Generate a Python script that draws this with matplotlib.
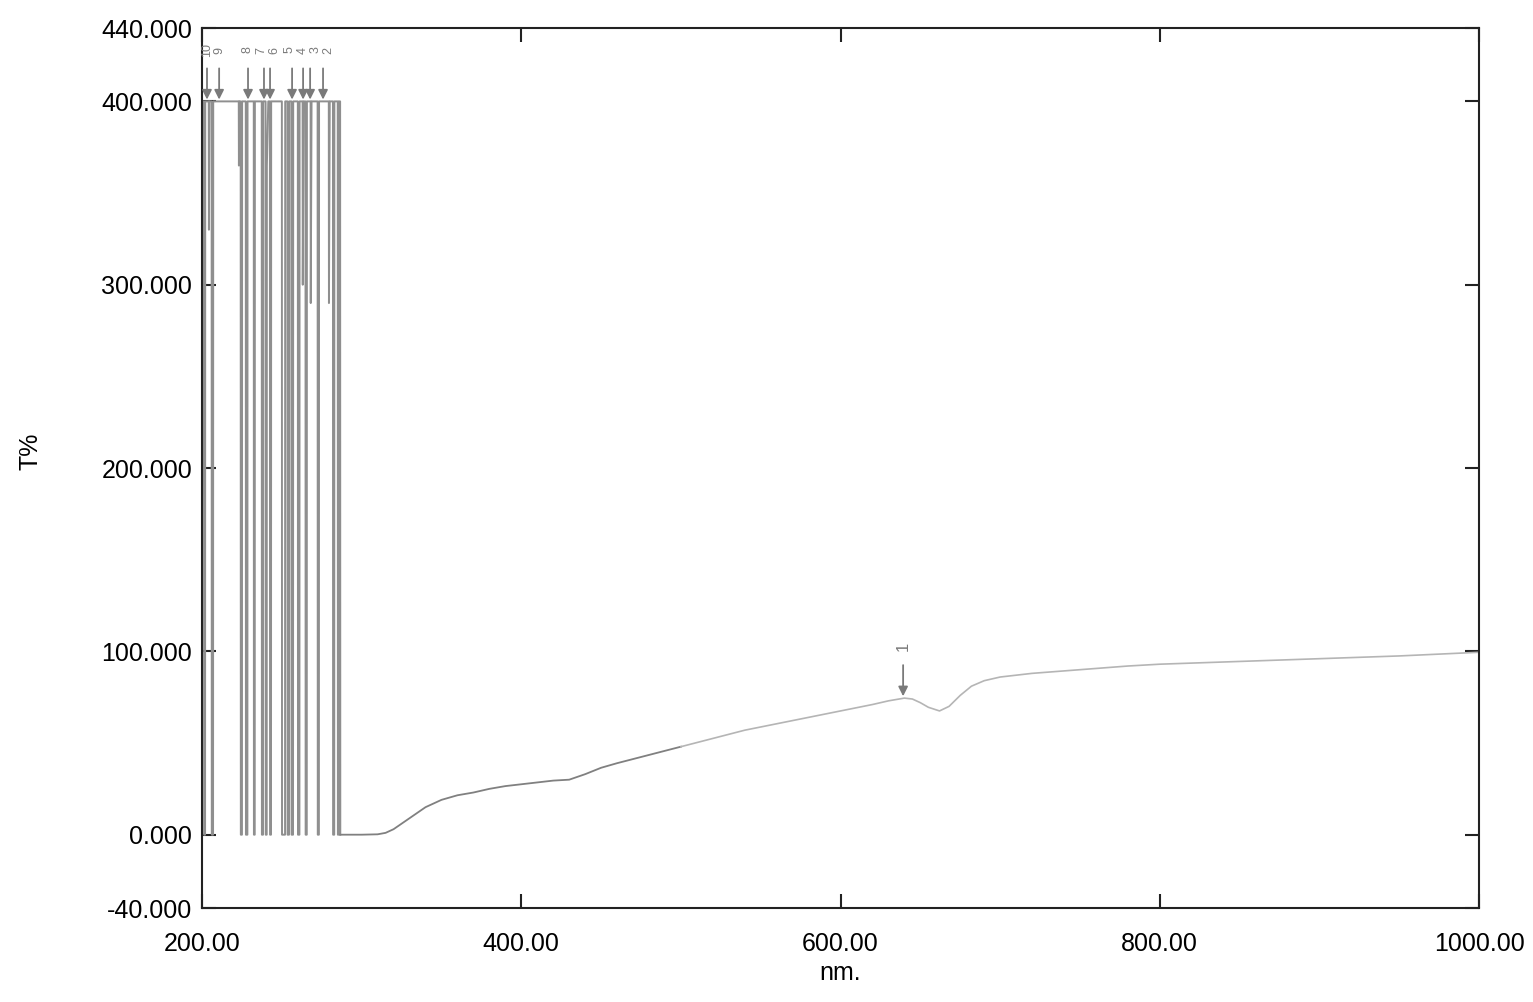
import numpy as np
import matplotlib.pyplot as plt

plt.rcParams['font.family'] = ['Liberation Sans', 'DejaVu Sans']

# noisy region (saturated detector)
noise_nm = [200.0, 200.4, 201.2, 201.3, 201.9, 202.0, 204.2, 204.3, 204.6, 206.0,
            206.1, 206.9, 207.0, 215.0, 223.0, 223.1, 223.4, 224.2, 224.3, 225.0,
            225.1, 227.4, 227.5, 228.4, 228.5, 232.4, 232.5, 233.0, 233.1, 237.4,
            237.5, 238.2, 238.3, 239.8, 239.9, 240.5, 240.6, 241.5, 242.5, 242.6,
            243.2, 243.3, 250.0, 250.1, 252.0, 252.1, 253.5, 253.6, 254.5, 254.6,
            256.0, 256.1, 257.0, 257.1, 260.0, 260.1, 261.0, 261.1, 263.0, 263.1,
            263.6, 264.8, 264.9, 265.6, 265.7, 268.0, 268.1, 268.6, 272.4, 272.5,
            273.2, 273.3, 279.4, 279.5, 280.0, 282.0, 282.1, 282.8, 282.9, 285.0,
            285.1, 285.6, 285.7, 286.5, 286.6]
noise_T = [180, 400, 400, 0, 0, 400, 400, 330, 400, 400,
           0, 0, 400, 400, 400, 365, 400, 400, 0, 0,
           400, 400, 0, 0, 400, 400, 0, 0, 400, 400,
           0, 0, 400, 400, 0, 0, 365, 400, 400, 0,
           0, 400, 400, 0, 0, 400, 400, 0, 0, 400,
           400, 0, 0, 400, 400, 0, 0, 400, 400, 300,
           400, 400, 0, 0, 400, 400, 290, 400, 400, 0,
           0, 400, 400, 290, 400, 400, 0, 0, 400, 400,
           0, 0, 400, 400, 0]

# smooth part of the spectrum
curve_nm = [286.6, 300, 310, 315, 320, 330, 340, 350, 360, 370, 380, 390, 400, 410,
            420, 430, 440, 450, 460, 480, 500, 520, 540, 560, 580, 600, 620, 630,
            640, 645, 650, 655, 662, 668, 675, 682, 690, 700, 720, 750, 780, 800,
            850, 900, 950, 1000]
curve_T = [0, 0, 0.2, 1, 3, 9, 15, 19, 21.5, 23, 25, 26.5, 27.5, 28.5,
           29.5, 30, 33, 36.5, 39, 43.5, 48, 52.5, 57, 60.5, 64, 67.5, 71, 73,
           74.5, 74, 72, 69.5, 67.5, 70, 76, 81, 84, 86, 88, 90, 92, 93,
           94.5, 96, 97.5, 99.5]

peak_nm = [639.2, 275.8, 267.7, 263.3, 256.4, 242.6, 238.8, 228.8, 210.7, 203.1]
peak_T = [74.5, 400, 400, 400, 400, 400, 400, 400, 400, 400]
peak_labels = ['1', '2', '3', '4', '5', '6', '7', '8', '9', '10']
# where the crowded labels sit, spread a little so they stay readable
label_nm = [639.2, 279.0, 271.0, 263.0, 255.0, 245.0, 237.0, 228.5, 211.0, 203.0]

yticks = [-40, 0, 100, 200, 300, 400, 440]
xticks = [200, 400, 600, 800, 1000]

fig = plt.figure(figsize=(15.33, 10.02), dpi=100)
ax = fig.add_axes([0.1318, 0.0938, 0.833, 0.8782])

ax.plot(noise_nm, noise_T, color='#8f8f8f', lw=1.4)
curve_nm = np.array(curve_nm)
curve_T = np.array(curve_T)
m = curve_nm <= 500
ax.plot(curve_nm[m], curve_T[m], color='#808080', lw=1.3)
ax.plot(curve_nm[curve_nm >= 500], curve_T[curve_nm >= 500], color='#b5b5b5', lw=1.2)

for x, y, lx, lab in zip(peak_nm, peak_T, label_nm, peak_labels):
    ax.annotate('', xy=(x, y + 1), xytext=(x, y + 18),
                arrowprops=dict(arrowstyle='-|>', color='#7a7a7a', lw=1.3,
                                mutation_scale=14, shrinkA=0, shrinkB=0))
    ax.text(lx, y + 28, lab, rotation=90, ha='center', va='center',
            fontsize=9 if y > 300 else 12, color='#7a7a7a')

ax.set_xlim(200, 1000)
ax.set_ylim(-40, 440)
ax.set_xticks(xticks)
ax.set_xticklabels(['%.2f' % v for v in xticks])
ax.set_yticks(yticks)
ax.set_yticklabels(['%.3f' % v for v in yticks])
ax.tick_params(direction='in', top=True, right=True, length=10, width=1.5,
               labelsize=18, color='#222222')
ax.tick_params(axis='x', pad=17)
ax.tick_params(axis='y', pad=7)
for s in ax.spines.values():
    s.set_linewidth(1.5)
    s.set_color('#222222')

ax.set_xlabel('nm.', fontsize=18, labelpad=4)
fig.text(0.02, 0.55, 'T%', rotation=90, fontsize=18, ha='center', va='center')

fig.savefig('out.png', dpi=100)
